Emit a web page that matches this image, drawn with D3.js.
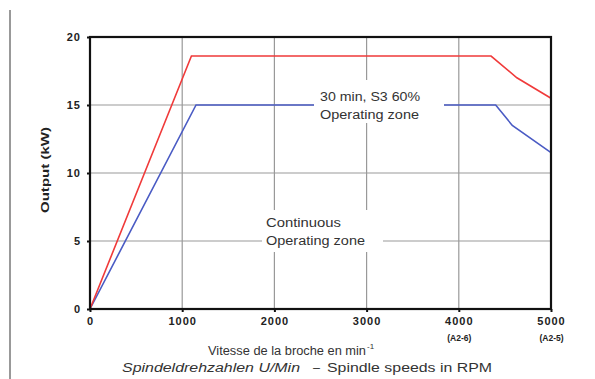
<!DOCTYPE html>
<html>
<head>
<meta charset="utf-8">
<script src="https://cdn.jsdelivr.net/npm/d3@7"></script>
<style>
  body { margin: 0; background: #fff; }
  text { font-family: "Liberation Sans", Arial, sans-serif; }
</style>
</head>
<body>
<div id="chart"></div>
<script>
// speed (rpm) / output (kW)
let s6Speed = [0, 1100, 4350, 4630, 5000];
let s6Power = [0, 18.6, 18.6, 17.0, 15.5];
let s1Speed = [0, 1150, 4400, 4580, 5000];
let s1Power = [0, 15, 15, 13.5, 11.5];
let xTicks = [0, 1000, 2000, 3000, 4000, 5000];
let xSub = {4000: "(A2-6)", 5000: "(A2-5)"};
let yTicks = [0, 5, 10, 15, 20];

let width = 595, height = 379;
let margin = {left: 90, right: 44, top: 37, bottom: 70};

let svg = d3.select("#chart").append("svg")
    .attr("width", width)
    .attr("height", height);

let x = d3.scaleLinear().domain([0, 5000]).range([margin.left, width - margin.right]);
let y = d3.scaleLinear().domain([0, 20]).range([height - margin.bottom, margin.top]);

// page edge line on the left
svg.append("line")
    .attr("x1", 10).attr("x2", 10)
    .attr("y1", 10).attr("y2", height)
    .attr("stroke", "#999").attr("stroke-width", 2);

// grid
svg.append("g")
    .selectAll("line")
    .data(xTicks.slice(1, -1))
    .enter().append("line")
    .attr("x1", d => x(d)).attr("x2", d => x(d))
    .attr("y1", y(20)).attr("y2", y(0))
    .attr("stroke", "#999").attr("stroke-width", 1.2);
svg.append("g")
    .selectAll("line")
    .data(yTicks.slice(1, -1))
    .enter().append("line")
    .attr("x1", x(0)).attr("x2", x(5000))
    .attr("y1", d => y(d)).attr("y2", d => y(d))
    .attr("stroke", "#999").attr("stroke-width", 1.2);

let line = d3.line()
    .x(d => x(d[0]))
    .y(d => y(d[1]));

svg.append("path")
    .datum(d3.zip(s1Speed, s1Power))
    .attr("d", line)
    .attr("fill", "none")
    .attr("stroke", "#4a5bc4")
    .attr("stroke-width", 1.6);

svg.append("path")
    .datum(d3.zip(s6Speed, s6Power))
    .attr("d", line)
    .attr("fill", "none")
    .attr("stroke", "#f03a3a")
    .attr("stroke-width", 1.6);

// text stretched to a given width (the scan is wider than the font)
function wideText(g, str, tx, ty, len) {
  return g.append("text")
    .attr("x", tx).attr("y", ty)
    .attr("textLength", len)
    .attr("lengthAdjust", "spacingAndGlyphs")
    .text(str);
}

// zone labels with white backing
function label(lines, lens, cx, cy, box) {
  let g = svg.append("g").attr("font-size", 12).attr("fill", "#333");
  g.append("rect")
    .attr("x", box[0]).attr("y", box[1])
    .attr("width", box[2]).attr("height", box[3])
    .attr("fill", "#fff");
  lines.forEach((s, i) => wideText(g, s, cx, cy + i * 18, lens[i]));
}
label(["30 min, S3 60%", "Operating zone"], [100, 99], 320, 101, [314, 80, 130, 43]);
label(["Continuous", "Operating zone"], [75, 99], 266, 227, [262, 210, 121, 42]);

// frame
svg.append("rect")
    .attr("x", x(0)).attr("y", y(20))
    .attr("width", x(5000) - x(0)).attr("height", y(0) - y(20))
    .attr("fill", "none")
    .attr("stroke", "#111").attr("stroke-width", 2.2);

// axes
let xAxis = svg.append("g")
    .attr("transform", "translate(0," + y(0) + ")")
    .call(d3.axisBottom(x).tickValues(xTicks).tickSize(3).tickPadding(5).tickFormat(d3.format("d")));
let yAxis = svg.append("g")
    .attr("transform", "translate(" + x(0) + ",0)")
    .call(d3.axisLeft(y).tickValues(yTicks).tickSize(3).tickPadding(6));
[xAxis, yAxis].forEach(a => {
  a.select(".domain").remove();
  a.selectAll(".tick line").attr("stroke", "#111").attr("stroke-width", 2);
  a.selectAll(".tick text")
    .attr("font-size", 11).attr("font-weight", "bold").attr("fill", "#222")
    .attr("letter-spacing", 1)
    .style("font-family", "'Liberation Sans', Arial, sans-serif");
});
xAxis.selectAll(".tick")
    .filter(d => xSub[d])
    .append("text")
    .attr("y", 32)
    .attr("fill", "#222")
    .attr("font-size", 8.5)
    .attr("font-weight", "bold")
    .style("font-family", "'Liberation Sans', Arial, sans-serif")
    .attr("text-anchor", "middle")
    .text(d => xSub[d]);

// axis titles
let yTitle = svg.append("g")
    .attr("transform", "translate(49," + 213 + ") rotate(-90)")
    .attr("font-size", 11.5)
    .attr("font-weight", "bold")
    .attr("fill", "#222");
wideText(yTitle, "Output (kW)", 0, 0, 86);

let titles = svg.append("g").attr("font-size", 12.5).attr("fill", "#333");
wideText(titles, "Vitesse de la broche en min", 208, 355, 158);
titles.append("text").attr("x", 367).attr("y", 349).attr("font-size", 8).text("-1");
wideText(titles, "Spindeldrehzahlen U/Min", 122, 372, 178).attr("font-style", "italic");
titles.append("text").attr("x", 313).attr("y", 372).text("\u2013");
wideText(titles, "Spindle speeds in RPM", 327, 372, 165);
</script>
</body>
</html>
